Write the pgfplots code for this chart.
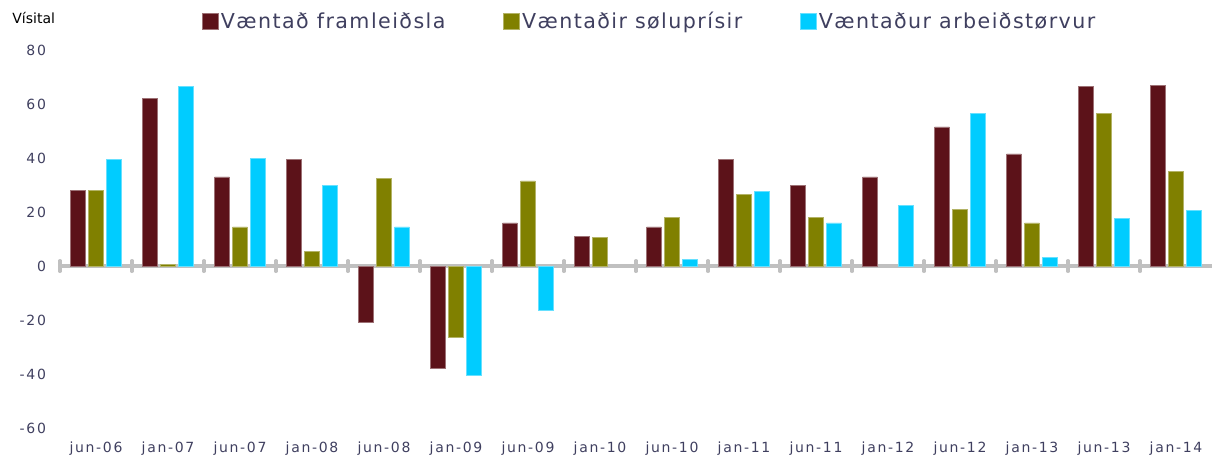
\documentclass[border=0pt]{standalone}
\usepackage{pgfplots}
\pgfplotsset{compat=1.18}
\usepackage{fontspec}
\setmainfont{DejaVu Sans}
\definecolor{cdark}{HTML}{5C1219}
\definecolor{colive}{HTML}{808000}
\definecolor{ccyan}{HTML}{00CCFF}
\definecolor{ctext}{HTML}{3F3F5F}
\definecolor{caxis}{HTML}{C0C0C0}
\begin{document}
\begin{tikzpicture}
\path[use as bounding box] (0,0) rectangle (607.5pt,228.5pt);
\node[anchor=west, inner sep=0pt, font=\fontsize{7}{8}\selectfont, text=black] at (6pt,219.5pt) {Vísital};
\begin{axis}[
  at={(30pt,14.5pt)}, anchor=south west,
  scale only axis, width=576pt, height=189pt,
  xmin=-0.5, xmax=15.5, ymin=-60, ymax=80,
  ytick={-60,-40,...,80},
  xtick={0,...,15},
  xticklabels={jun-06,jan-07,jun-07,jan-08,jun-08,jan-09,jun-09,jan-10,jun-10,jan-11,jun-11,jan-12,jun-12,jan-13,jun-13,jan-14},
  axis line style={draw=none},
  major tick length=0pt,
  /pgf/number format/assume math mode=true,
  tick label style={font=\fontsize{7}{8}\selectfont\addfontfeature{LetterSpace=12}, text=ctext},
  yticklabel style={xshift=-3.5pt},
  xticklabel style={yshift=-3.5pt},
  ybar, bar width=0.208,
  legend columns=3,
  legend style={draw=none, fill=none, at={(0.512,1.074)}, anchor=center,
    font=\fontsize{10.3}{12}\selectfont\addfontfeature{LetterSpace=7}, text=ctext,
    /tikz/every even column/.append style={column sep=28pt},
    nodes={inner sep=1pt}},
  legend image code/.code={\fill[#1] (0pt,-3.8pt) rectangle (8pt,4.2pt);},
  clip=false,
]
\draw[caxis, line width=1.6pt] (axis cs:-0.5,0) -- (axis cs:15.5,0);
\pgfplotsinvokeforeach{-0.5,0.5,...,14.5}{
  \draw[caxis, line width=1.6pt, line cap=round] (axis cs:#1,-2) -- (axis cs:#1,2);
}
\addplot[fill=cdark, draw=cdark!60!white, line width=0.3pt, bar shift=-0.25] coordinates {
(0,28) (1,62) (2,33) (3,39.5) (4,-21) (5,-38) (6,16) (7,11) (8,14.5) (9,39.5) (10,30) (11,33) (12,51.5) (13,41.5) (14,66.5) (15,67)};
\addplot[fill=colive, draw=colive!60!white, line width=0.3pt, bar shift=0] coordinates {
(0,28) (1,0.7) (2,14.5) (3,5.3) (4,32.5) (5,-26.5) (6,31.5) (7,10.5) (8,18) (9,26.5) (10,18) (12,21) (13,16) (14,56.5) (15,35)};
\addplot[fill=ccyan, draw=ccyan!60!white, line width=0.3pt, bar shift=0.25] coordinates {
(0,39.5) (1,66.5) (2,40) (3,30) (4,14.5) (5,-40.5) (6,-16.5) (8,2.5) (9,27.5) (10,16) (11,22.5) (12,56.5) (13,3.3) (14,17.5) (15,20.5)};
\legend{Væntað framleiðsla, Væntaðir søluprísir, Væntaður arbeiðstørvur}
\end{axis}
\end{tikzpicture}
\end{document}
